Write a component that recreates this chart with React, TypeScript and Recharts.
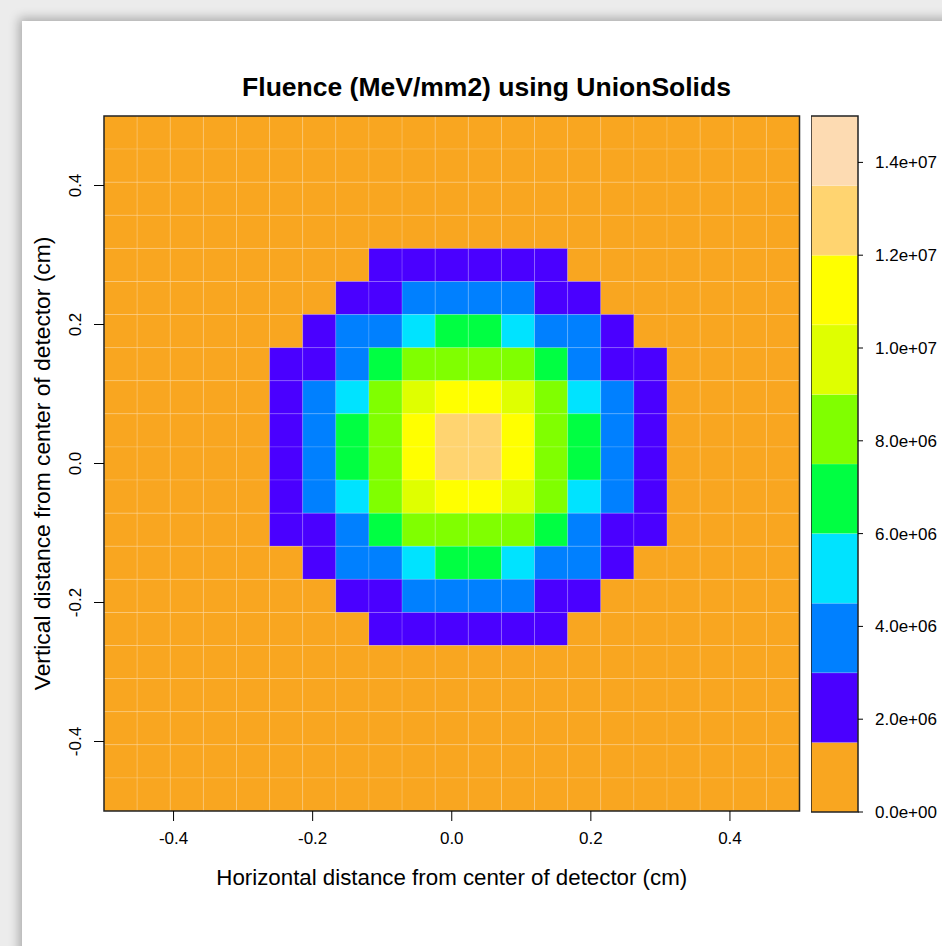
import { ScatterChart, Scatter, XAxis, YAxis, ReferenceArea, Label } from 'recharts'

const title = 'Fluence (MeV/mm2) using UnionSolids'
const xLabel = 'Horizontal distance from center of detector (cm)'
const yLabel = 'Vertical distance from center of detector (cm)'

const cellsPerSide = 21
const extent = [-0.5, 0.5]
const axisTicks = [-0.4, -0.2, 0, 0.2, 0.4]

// fluence (MeV/mm2) in the beam spot: 12x12 block of cells, top row = grid row 4, left col = grid col 5
// every other cell of the 21x21 grid is background (0)
const spotRowStart = 4
const spotColStart = 5
const spotRows = [
  [0, 0, 0, 2.2e6, 2.2e6, 2.2e6, 2.2e6, 2.2e6, 2.2e6, 0, 0, 0],
  [0, 0, 2.2e6, 2.2e6, 3.8e6, 3.8e6, 3.8e6, 3.8e6, 2.2e6, 2.2e6, 0, 0],
  [0, 2.2e6, 3.8e6, 3.8e6, 5.2e6, 6.7e6, 6.7e6, 5.2e6, 3.8e6, 3.8e6, 2.2e6, 0],
  [2.2e6, 2.2e6, 3.8e6, 6.7e6, 8.3e6, 8.3e6, 8.3e6, 8.3e6, 6.7e6, 3.8e6, 2.2e6, 2.2e6],
  [2.2e6, 3.8e6, 5.2e6, 8.3e6, 9.8e6, 11.3e6, 11.3e6, 9.8e6, 8.3e6, 5.2e6, 3.8e6, 2.2e6],
  [2.2e6, 3.8e6, 6.7e6, 8.3e6, 11.3e6, 12.6e6, 12.6e6, 11.3e6, 8.3e6, 6.7e6, 3.8e6, 2.2e6],
  [2.2e6, 3.8e6, 6.7e6, 8.3e6, 11.3e6, 12.6e6, 12.6e6, 11.3e6, 8.3e6, 6.7e6, 3.8e6, 2.2e6],
  [2.2e6, 3.8e6, 5.2e6, 8.3e6, 9.8e6, 11.3e6, 11.3e6, 9.8e6, 8.3e6, 5.2e6, 3.8e6, 2.2e6],
  [2.2e6, 2.2e6, 3.8e6, 6.7e6, 8.3e6, 8.3e6, 8.3e6, 8.3e6, 6.7e6, 3.8e6, 2.2e6, 2.2e6],
  [0, 2.2e6, 3.8e6, 3.8e6, 5.2e6, 6.7e6, 6.7e6, 5.2e6, 3.8e6, 3.8e6, 2.2e6, 0],
  [0, 0, 2.2e6, 2.2e6, 3.8e6, 3.8e6, 3.8e6, 3.8e6, 2.2e6, 2.2e6, 0, 0],
  [0, 0, 0, 2.2e6, 2.2e6, 2.2e6, 2.2e6, 2.2e6, 2.2e6, 0, 0, 0],
]

const levelBreaks = [0, 1.5e6, 3e6, 4.5e6, 6e6, 7.5e6, 9e6, 10.5e6, 12e6, 13.5e6, 15e6]
const levelColors = [
  '#F9A620', '#4A00FF', '#0080FF', '#00E3FF', '#00FF42',
  '#80FF00', '#DFFF00', '#FFFF00', '#FFD470', '#FDDBB2',
]
const colorbarTicks = [0, 2e6, 4e6, 6e6, 8e6, 1e7, 1.2e7, 1.4e7]

const fontFamily = '"Liberation Sans", Arial, Helvetica, sans-serif'

function cellValue(row: number, col: number) {
  const r = row - spotRowStart
  const c = col - spotColStart
  if (r < 0 || c < 0 || r >= spotRows.length || c >= spotRows[r].length) return 0
  return spotRows[r][c]
}

function levelColor(v: number) {
  for (let i = levelBreaks.length - 2; i >= 0; i--) {
    if (v >= levelBreaks[i]) return levelColors[i]
  }
  return levelColors[0]
}

const cellSize = (extent[1] - extent[0]) / cellsPerSide
const cells: { x1: number; x2: number; y1: number; y2: number; fill: string }[] = []
for (let row = 0; row < cellsPerSide; row++) {
  for (let col = 0; col < cellsPerSide; col++) {
    const x1 = extent[0] + col * cellSize
    const y2 = extent[1] - row * cellSize
    cells.push({ x1, x2: x1 + cellSize, y1: y2 - cellSize, y2, fill: levelColor(cellValue(row, col)) })
  }
}

function sci(v: number) {
  const [m, e] = v.toExponential(1).split('e')
  const n = parseInt(e, 10)
  return `${m}e${n < 0 ? '-' : '+'}${String(Math.abs(n)).padStart(2, '0')}`
}

function RotatedTick(props: any) {
  const { x, y, payload } = props
  return (
    <text
      x={x}
      y={y}
      transform={`rotate(-90 ${x} ${y})`}
      textAnchor="middle"
      fontSize={17}
      fill="#000"
      fontFamily={fontFamily}
    >
      {Number(payload.value).toFixed(1)}
    </text>
  )
}

const tickStyle = { fill: '#000', fontSize: 17, fontFamily }

export default function App() {
  return (
    <div
      style={{
        position: 'absolute',
        left: 0,
        top: 0,
        width: 942,
        height: 946,
        overflow: 'hidden',
        background: '#ececec',
        fontFamily,
      }}
    >
      <div
        style={{
          position: 'absolute',
          left: 22,
          top: 21,
          width: 940,
          height: 940,
          background: '#fff',
          boxShadow: '0 0 10px 3px rgba(0,0,0,0.28)',
        }}
      />
      <svg width={942} height={120} style={{ position: 'absolute', left: 0, top: 0 }}>
        <text x={486.5} y={96} textAnchor="middle" fontSize={26.5} fontWeight="bold" fill="#000" fontFamily={fontFamily}>
          {title}
        </text>
      </svg>

      <div style={{ position: 'absolute', left: 0, top: 0 }}>
        <ScatterChart width={942} height={946} margin={{ top: 116, right: 142.5, bottom: 95, left: 44 }}>
          <XAxis
            type="number"
            dataKey="x"
            domain={extent}
            ticks={axisTicks}
            allowDataOverflow
            axisLine={false}
            tickSize={10}
            tickMargin={11}
            tickLine={{ stroke: '#000' }}
            tick={tickStyle}
            tickFormatter={(v: number) => v.toFixed(1)}
            height={40}
          >
            <Label
              content={(p: any) => {
                const vb = p.viewBox || { x: 104, width: 695.5 }
                return (
                  <text x={vb.x + vb.width / 2} y={885} textAnchor="middle" fontSize={22.3} fill="#000" fontFamily={fontFamily}>
                    {xLabel}
                  </text>
                )
              }}
            />
          </XAxis>
          <YAxis
            type="number"
            dataKey="y"
            domain={extent}
            ticks={axisTicks}
            allowDataOverflow
            axisLine={false}
            tickSize={10}
            tickMargin={13}
            tickLine={{ stroke: '#000' }}
            tick={<RotatedTick />}
            width={60}
          >
            <Label
              content={(p: any) => {
                const vb = p.viewBox || { y: 116, height: 695 }
                const cy = vb.y + vb.height / 2
                return (
                  <text x={50} y={cy} transform={`rotate(-90 50 ${cy})`} textAnchor="middle" fontSize={22.8} fill="#000" fontFamily={fontFamily}>
                    {yLabel}
                  </text>
                )
              }}
            />
          </YAxis>
          {cells.map((c, i) => (
            <ReferenceArea
              key={i}
              x1={c.x1}
              x2={c.x2}
              y1={c.y1}
              y2={c.y2}
              fill={c.fill}
              fillOpacity={1}
              stroke="#ffffff"
              strokeOpacity={0.18}
              strokeWidth={0.8}
              ifOverflow="visible"
            />
          ))}
          <ReferenceArea
            x1={extent[0]}
            x2={extent[1]}
            y1={extent[0]}
            y2={extent[1]}
            fill="none"
            stroke="#222"
            strokeWidth={1.5}
            ifOverflow="visible"
          />
          <Scatter data={[]} isAnimationActive={false} />
        </ScatterChart>
      </div>

      <div style={{ position: 'absolute', left: 811, top: 0 }}>
        <ScatterChart width={131} height={946} margin={{ top: 116, right: 0, bottom: 134, left: 0 }}>
          <XAxis type="number" dataKey="x" domain={[0, 1]} allowDataOverflow hide />
          <YAxis
            type="number"
            dataKey="y"
            orientation="right"
            domain={[levelBreaks[0], levelBreaks[levelBreaks.length - 1]]}
            ticks={colorbarTicks}
            allowDataOverflow
            axisLine={false}
            tickSize={5}
            tickMargin={12}
            tickLine={{ stroke: '#000' }}
            tick={tickStyle}
            tickFormatter={sci}
            width={84}
          />
          {levelColors.map((color, i) => (
            <ReferenceArea
              key={i}
              x1={0}
              x2={1}
              y1={levelBreaks[i]}
              y2={levelBreaks[i + 1]}
              fill={color}
              fillOpacity={1}
              stroke="#ffffff"
              strokeOpacity={0.15}
              strokeWidth={0.8}
              ifOverflow="visible"
            />
          ))}
          <ReferenceArea
            x1={0}
            x2={1}
            y1={levelBreaks[0]}
            y2={levelBreaks[levelBreaks.length - 1]}
            fill="none"
            stroke="#222"
            strokeWidth={1.5}
            ifOverflow="visible"
          />
          <Scatter data={[]} isAnimationActive={false} />
        </ScatterChart>
      </div>
    </div>
  )
}
